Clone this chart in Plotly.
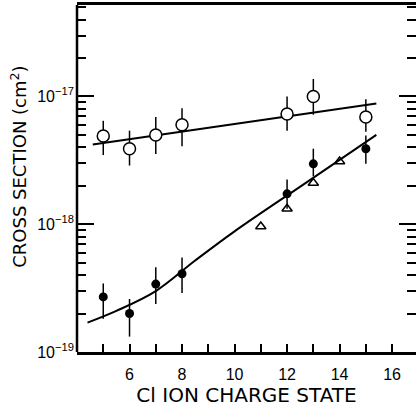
import plotly.graph_objects as go

# open circles
open_x = [5, 6, 7, 8, 12, 13, 15]
open_y = [4.9e-18, 3.9e-18, 5.0e-18, 6.0e-18, 7.3e-18, 1.0e-17, 6.9e-18]
open_hi = [6.45e-18, 5.4e-18, 6.9e-18, 8.1e-18, 1.0e-17, 1.37e-17, 9.5e-18]
open_lo = [3.48e-18, 2.88e-18, 3.55e-18, 4.08e-18, 5.4e-18, 7.2e-18, 5.3e-18]

# filled circles
full_x = [5, 6, 7, 8, 12, 13, 15]
full_y = [2.7e-19, 2.0e-19, 3.4e-19, 4.1e-19, 1.73e-18, 2.97e-18, 3.9e-18]
full_hi = [3.44e-19, 2.6e-19, 4.6e-19, 5.5e-19, 2.24e-18, 3.9e-18, 4.95e-18]
full_lo = [1.82e-19, 1.32e-19, 2.37e-19, 2.9e-19, 1.32e-18, 2.37e-18, 2.97e-18]

# open triangles
tri_x = [11, 12, 13, 14]
tri_y = [0.96e-18, 1.32e-18, 2.1e-18, 3.1e-18]

# fitted curves
fit_up_x = [4.6, 15.4]
fit_up_y = [4.2e-18, 8.8e-18]
fit_lo_x = [4.4, 5.5, 7, 8.5, 10, 12.7, 15.4]
fit_lo_y = [1.7e-19, 2.1e-19, 3.0e-19, 5.2e-19, 8.8e-19, 2.1e-18, 5.0e-18]

x_ticks = [6, 8, 10, 12, 14, 16]
y_ticks = [1e-19, 1e-18, 1e-17]
y_ticktext = ["10<sup>\u221219</sup>", "10<sup>\u221218</sup>", "10<sup>\u221217</sup>"]


def errs(y, hi, lo):
    return [h - v for v, h in zip(y, hi)], [v - l for v, l in zip(y, lo)]


fig = go.Figure()
fig.add_trace(go.Scatter(x=fit_up_x, y=fit_up_y, mode="lines",
                         line=dict(color="black", width=2)))
fig.add_trace(go.Scatter(x=fit_lo_x, y=fit_lo_y, mode="lines",
                         line=dict(color="black", width=2, shape="spline")))

up, dn = errs(open_y, open_hi, open_lo)
fig.add_trace(go.Scatter(x=open_x, y=open_y, mode="markers",
                         marker=dict(symbol="circle", size=12, color="white",
                                     line=dict(color="black", width=1.5)),
                         error_y=dict(type="data", array=up, arrayminus=dn,
                                      color="black", thickness=1.5, width=0)))
up, dn = errs(full_y, full_hi, full_lo)
fig.add_trace(go.Scatter(x=full_x, y=full_y, mode="markers",
                         marker=dict(symbol="circle", size=9, color="black"),
                         error_y=dict(type="data", array=up, arrayminus=dn,
                                      color="black", thickness=1.5, width=0)))
fig.add_trace(go.Scatter(x=tri_x, y=tri_y, mode="markers",
                         marker=dict(symbol="triangle-up-open", size=9, color="black",
                                     line=dict(width=1.5))))

minor_y = [m * 10.0 ** e for e in (-19, -18, -17) for m in range(2, 10)]

fig.update_xaxes(range=[4, 16.91], tickvals=x_ticks, ticks="inside", ticklen=8,
                 tickwidth=1.5, tickcolor="black", showline=True, linewidth=2.5,
                 linecolor="black", mirror=True, showgrid=False, zeroline=False,
                 minor=dict(tickvals=list(range(5, 18)), ticks="inside", ticklen=8,
                            tickwidth=1.5, tickcolor="black"),
                 tickfont=dict(size=16, color="black"), ticklabelstandoff=6,
                 title=dict(text="Cl ION CHARGE STATE",
                            font=dict(family="DejaVu Sans", size=20, color="black"),
                            standoff=1))
fig.update_yaxes(type="log", range=[-19, -16.284], tickvals=y_ticks, ticktext=y_ticktext,
                 ticks="inside", ticklen=17, tickwidth=1.5, tickcolor="black",
                 showline=False, mirror="ticks", showgrid=False, zeroline=False,
                 minor=dict(tickvals=minor_y, ticks="inside", ticklen=9,
                            tickwidth=1.5, tickcolor="black"),
                 tickfont=dict(size=16, color="black"), ticklabelstandoff=2)

fig.add_shape(type="line", xref="paper", yref="paper", x0=0, x1=0, y0=0, y1=1,
              line=dict(color="black", width=2.5))
fig.add_annotation(text="CROSS SECTION (cm<sup>2</sup>)", xref="paper", yref="paper",
                   x=-0.172, y=0.533, xanchor="center", yanchor="middle",
                   textangle=-90, showarrow=False,
                   font=dict(family="DejaVu Sans", size=18, color="black"))

fig.update_layout(width=416, height=408, margin=dict(l=77, r=0, t=5, b=56),
                  plot_bgcolor="white", paper_bgcolor="white", showlegend=False,
                  font=dict(family="Liberation Sans, Arial, sans-serif", color="black"))

fig.write_html("out.html", config={"displayModeBar": False},
               post_script="document.body.style.margin='0px';")
